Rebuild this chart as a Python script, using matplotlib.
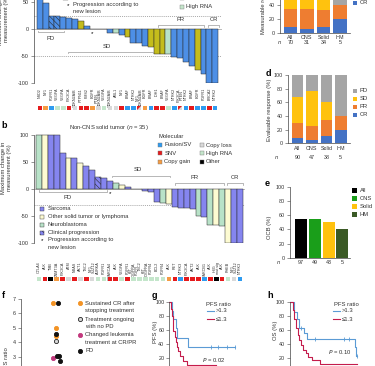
import matplotlib
matplotlib.use('Agg')
import matplotlib.pyplot as plt
import matplotlib.transforms as mtransforms
from matplotlib.patches import Rectangle, Polygon
import numpy as np

plt.rcParams['font.family'] = ['Liberation Sans', 'DejaVu Sans']
plt.rcParams['hatch.linewidth'] = 0.4
plt.rcParams['axes.linewidth'] = 0.5

# ---------------- data ----------------
a_genes = ['NSD2', 'NF1', 'FGFR1', 'VEGFA', 'VEGFA', 'PIK3CA', 'CDKN2A/B', 'PTPN11', 'PMS2',
           'EGFR', 'PTEN,\nCDKN2A/B', 'VEGFA', 'CDKN2A/B', 'ABL1', 'NF1', 'BRAF', 'NTRK2',
           'NF1,\nCDKN2A/B', 'EGFR', 'BRAF', 'IDH1', 'BRAF', 'VEGFA', 'NTRK2', 'PIK3CA,\nPTEN',
           'NTRK2', 'BRAF', 'EGFR', 'FGFR1', 'BRCA2', 'NTRK2']
a_values = [60, 48, 25, 25, 23, 21, 19, 14, 5, 0, 0, 0, -8, -7, -12, -15, -26, -26, -32, -33,
            -47, -47, -47, -52, -53, -62, -68, -75, -83, -100, -100]
a_types = ['B', 'B', 'B', 'B', 'B', 'B', 'B', 'Y', 'B', 'B', 'B', 'B', 'B', 'G', 'B', 'Y',
           'B', 'B', 'B', 'Y', 'Y', 'Y', 'G', 'B', 'B', 'B', 'B', 'Y', 'B', 'B', 'B']
a_hatched = [2, 3]
a_star = [9]
a_mol = ['SNV', 'Gain', 'Fusion', 'RNA', 'RNA', 'SNV', 'Loss', 'SNV', 'SNV', 'Gain', 'Loss',
         'RNA', 'Loss', 'Loss', 'SNV', 'Fusion', 'Fusion', 'SNV/Loss', 'Gain', 'Fusion', 'SNV',
         'SNV', 'RNA', 'Fusion', 'SNV/Loss', 'Fusion', 'SNV', 'Fusion', 'Fusion', 'SNV', 'Fusion']

b_genes = ['CTLA4', 'ALK', 'TMB', 'DNMT3A', 'PIK3CA', 'ATM', 'NRAS', 'AKT1', 'TSC2',
           'NF1,\nSUZ12', 'AURKA', 'FGFR1', 'SMARCA4', 'ALK', 'VEGFA', 'FGFR1',
           'KIT,\nPDGFRA,\nFGFR', 'TSC2', 'KIT,\nPDGFRA', 'FGFR4', 'BCL2', 'FGFR4', 'ALK', 'RET',
           'NTRK3', 'PIK3CA', 'AKT2', 'ALK', 'SMARCB1', 'ALK', 'H3G\nmut sig', 'ALK', 'RHEB',
           'NF1,\nSUZ12', 'NTRK3']
b_values = [100, 100, 100, 100, 67, 57, 57, 48, 42, 35, 23, 20, 15, 12, 7, 4, 1, 0, -3, -5,
            -24, -25, -28, -33, -34, -35, -37, -50, -52, -67, -67, -68, -100, -100, -100]
b_types = ['N', 'O', 'S', 'S', 'S', 'O', 'S', 'O', 'S', 'S', 'S', 'S', 'S', 'N', 'O', 'S',
           'S', 'S', 'S', 'S', 'S', 'N', 'O', 'S', 'S', 'S', 'S', 'N', 'S', 'N', 'O', 'N',
           'O', 'S', 'S']
b_hatched = [10]
b_star = [12]
b_mol = ['RNA', 'SNV', 'Other', 'Gain', 'SNV', 'Loss', 'SNV', 'Loss', 'SNV', 'Loss', 'RNA',
         'RNA', 'SNV', 'SNV', 'RNA', 'SNV', 'RNA', 'RNA', 'RNA', 'RNA', 'RNA', 'RNA', 'Gain',
         'SNV', 'Fusion', 'SNV', 'SNV', 'SNV', 'Fusion', 'SNV', 'Other', 'SNV', 'RNA', 'Loss',
         'Fusion']

groups = ['All', 'CNS', 'Solid', 'HM']
c_n = [70, 31, 34, 5]
c_CR = [8, 6, 8, 20]
c_PR = [27, 29, 26, 20]
c_SD = [35, 40, 30, 0]
c_PD = [30, 25, 36, 60]

d_n = [90, 47, 38, 5]
d_CR = [8, 5, 10, 20]
d_PR = [21, 20, 24, 20]
d_SD = [39, 52, 27, 0]
d_PD = [32, 23, 39, 60]

e_n = [97, 49, 43, 5]
e_ocb = [55, 55, 50, 40]

f_x = [0.60, 0.69, 0.65, 0.65, 0.65, 0.65, 0.70, 0.60, 0.66, 0.72]
f_y = [6.70, 6.74, 4.97, 4.40, 4.55, 4.12, 3.07, 2.89, 3.07, 2.72]
f_grp = ['CR', 'PD', 'CR', 'CR', 'PD', 'Ongoing', 'PD', 'Changed', 'PD', 'PD']

g_hi_t = [0, 2.5, 3.2, 5.4, 6.3, 16.1]
g_hi_s = [100, 87, 75, 62, 48, 36]
g_hi_end = 55.9
g_hi_cens = [35.1, 41.6, 48.7, 55.9]
g_lo_t = [0, 1.5, 2.0, 2.8, 3.4, 4.5, 5.4, 6.5, 7.5, 9.1, 11.4, 14.8]
g_lo_s = [100, 90, 80, 68, 58, 50, 42, 35, 30, 22, 15, 10]
g_lo_end = 40

h_hi_t = [0, 3.4, 5.4, 7.2, 11.2, 13.3, 52.0, 53.0]
h_hi_s = [100, 85, 75, 62, 55, 47, 35, 23]
h_hi_end = 53.3
h_hi_cens = [9.0, 20.0, 43.2, 47.5, 53.3]
h_hi_cens_s = [62, 47, 47, 47, 23]
h_lo_t = [0, 2.1, 3.4, 4.8, 6.1, 7.5, 8.8, 10.7, 12.8, 14.7, 17.3, 24.0]
h_lo_s = [100, 88, 75, 62, 52, 45, 38, 32, 27, 22, 17, 12]
h_lo_end = 53.3

# ---------------- styles ----------------
W, H = 375, 366
fig = plt.figure(figsize=(W / 100, H / 100), dpi=100)

def add_ax(l, t, r, b):
    return fig.add_axes([l / W, 1 - b / H, (r - l) / W, (b - t) / H])

ov = add_ax(0, 0, W, H)
ov.set_xlim(0, W)
ov.set_ylim(H, 0)
ov.axis('off')
ov.set_zorder(10)

FS = 4.2
TICK = 3.9
GENE = 2.7
TXT = '#333333'
SPC = '#444444'
mol_col = {'Fusion': '#2e9bf0', 'SNV': '#e51a1c', 'Gain': '#f59b42', 'Loss': '#d9d9d9',
           'RNA': '#c4e6cb', 'Other': '#000000'}
a_col = {'B': '#4d8fe6', 'Y': '#c4bc1c', 'G': '#b8e2c8'}
b_col = {'S': '#8585ef', 'O': '#fdfbd2', 'N': '#b8e2c8'}
resp_col = {'PD': '#a5a5a5', 'SD': '#ffc20e', 'PR': '#ee7d31', 'CR': '#4472c4'}
e_col = ['#000000', '#1a9e1a', '#ffc20e', '#3b5a26']
HATCH = '\\\\\\\\\\\\'


def style_ax(ax):
    for s in ['top', 'right']:
        ax.spines[s].set_visible(False)
    for s in ax.spines.values():
        s.set_color(SPC)
        s.set_linewidth(0.5)
    ax.tick_params(axis='both', colors=SPC, labelcolor=TXT, width=0.4, length=2,
                   labelsize=TICK, pad=1.5)
    ax.patch.set_alpha(0)


def bracket(x0, x1, y, up):
    d = -1.6 if up else 1.6
    ov.plot([x0, x0, x1, x1], [y + d, y, y, y + d], color='#9a9a9a', lw=0.5)


def waterfall(ax, strip, vals, types, cols, hatched, stars, genes, mols, pad):
    x = np.arange(len(vals))
    bars = ax.bar(x, vals, width=1.0, color=[cols[t] for t in types], edgecolor='#2a2a2a',
                  linewidth=0.35, zorder=3)
    for i in hatched:
        bars[i].set_hatch(HATCH)
    for i in stars:
        ax.text(i, -9, '*', ha='center', va='center', fontsize=4.5, zorder=4)
    ax.axhline(0, color='#a0a0a0', lw=0.5, zorder=2)
    style_ax(ax)
    ax.spines['bottom'].set_visible(False)
    ax.set_xticks(x)
    ax.set_xticklabels(genes, rotation=90, fontsize=GENE, color=TXT, linespacing=0.82)
    ax.tick_params(axis='x', length=0, pad=pad)
    # molecular strip
    strip.set_xlim(ax.get_xlim())
    strip.set_ylim(0, 1)
    strip.axis('off')
    base = [mol_col[m.split('/')[-1]] for m in mols]
    strip.bar(x, [1] * len(x), width=0.78, bottom=0, color=base, linewidth=0)
    for i, m in enumerate(mols):
        if '/' in m:
            top = mol_col[m.split('/')[0]]
            strip.add_patch(Polygon([[i - 0.39, 0], [i - 0.39, 1], [i + 0.39, 1]],
                                    closed=True, color=top, lw=0))


# ---------------- panel a ----------------
ppu_a = (83 - 2) / 150
axa = add_ax(34, -10, 222, 83)
axa.set_ylim(-100, 50 + 12 / ppu_a)
axa.set_xlim(-1.01, 31.18)
stripa = add_ax(34, 105.5, 222, 110.5)
waterfall(axa, stripa, a_values, a_types, a_col, a_hatched, a_star, a_genes, a_mol, 3.6)
axa.axhline(25, color='#8a8a8a', lw=0.5, ls=(0, (1.5, 1.5)), zorder=1)
axa.axhline(-50, color='#8a8a8a', lw=0.5, ls=(0, (1.5, 1.5)), zorder=1)
axa.set_yticks([-100, -50, 0, 50])
axa.set_yticklabels(['-100', '-50', '0', '50'])
ov.text(3.5, 19, 'Maximum change in\nmeasurement (%)', rotation=90, ha='center', va='center',
        fontsize=FS, linespacing=1.15, color=TXT)
bracket(38, 64, 32.3, True)
ov.text(51, 38.5, 'PD', ha='center', va='center', fontsize=FS, color=TXT)
bracket(68, 153, 51.7, False)
ov.text(107, 46.5, 'SD', ha='center', va='center', fontsize=FS, color=TXT)
bracket(158, 204, 25, False)
ov.text(181, 19.5, 'PR', ha='center', va='center', fontsize=FS, color=TXT)
bracket(208, 219, 25, False)
ov.text(213.5, 19.5, 'CR', ha='center', va='center', fontsize=FS, color=TXT)
# top legend (partly cropped)
ov.add_patch(Rectangle((63, -4.5), 4.5, 4.5, facecolor=a_col['B'], edgecolor='#333', lw=0.3,
                       hatch=HATCH))
ov.text(73, -2.2, 'Clinical progression', va='center', fontsize=FS, color=TXT)
ov.text(68, 6, '*', ha='center', va='center', fontsize=4.5)
ov.text(73, 4.8, 'Progression according to', va='center', fontsize=FS, color=TXT)
ov.text(73, 11.5, 'new lesion', va='center', fontsize=FS, color=TXT)
ov.add_patch(Rectangle((180, -4), 4, 4, facecolor=mol_col['Loss'], edgecolor='#777', lw=0.3))
ov.text(186, -2, 'Copy loss', va='center', fontsize=FS, color=TXT)
ov.add_patch(Rectangle((180, 4.7), 4, 4, facecolor=mol_col['RNA'], edgecolor='#777', lw=0.3))
ov.text(186, 6.7, 'High RNA', va='center', fontsize=FS, color=TXT)

# ---------------- panel b ----------------
ppu_b = (243.3 - 135) / 200
axb = add_ax(33.5, 130, 245, 243.3)
axb.set_ylim(-100, 100 + 5 / ppu_b)
axb.set_xlim(-0.92, 34.86)
stripb = add_ax(33.5, 276.5, 245, 281)
waterfall(axb, stripb, b_values, b_types, b_col, b_hatched, b_star, b_genes, b_mol, 13.2)
axb.axhline(-30, color='#8a8a8a', lw=0.5, ls=(0, (1.5, 1.5)), zorder=1)
axb.spines['left'].set_bounds(-100, 100)
axb.set_yticks([-100, -50, 0, 50, 100])
axb.set_yticklabels(['-100', '-50', '0', '50', '100'])
ov.text(1, 126, 'b', fontsize=6.5, fontweight='bold', va='center')
ov.text(109, 127.5, 'Non-CNS solid tumor ($n$ = 35)', ha='center', va='center', fontsize=FS,
        color=TXT)
ov.text(6.5, 168, 'Maximum change in\nmeasurement (%)', rotation=90, ha='center', va='center',
        fontsize=FS, linespacing=1.15, color=TXT)
bracket(39, 107, 192, True)
ov.text(68, 197.5, 'PD', ha='center', va='center', fontsize=FS, color=TXT)
bracket(112, 170, 175.7, False)
ov.text(138, 169.5, 'SD', ha='center', va='center', fontsize=FS, color=TXT)
bracket(175, 224, 183, False)
ov.text(195, 177.5, 'PR', ha='center', va='center', fontsize=FS, color=TXT)
bracket(227, 243, 183, False)
ov.text(235, 177.5, 'CR', ha='center', va='center', fontsize=FS, color=TXT)
leg_b = [('Sarcoma', b_col['S'], None), ('Other solid tumor or lymphoma', b_col['O'], None),
         ('Neuroblastoma', b_col['N'], None), ('Clinical progression', b_col['S'], HATCH)]
for k, (lab, col, hat) in enumerate(leg_b):
    y = 209 + 7.9 * k
    ov.add_patch(Rectangle((39.5, y - 2.2), 4.4, 4.4, facecolor=col, edgecolor='#333', lw=0.3,
                           hatch=hat))
    ov.text(48, y, lab, va='center', fontsize=FS, color=TXT)
ov.text(41.7, 241, '*', ha='center', va='center', fontsize=4.5)
ov.text(48, 240, 'Progression according to', va='center', fontsize=FS, color=TXT)
ov.text(48, 247.3, 'new lesion', va='center', fontsize=FS, color=TXT)
ov.text(158.3, 137, 'Molecular', va='center', fontsize=FS, color=TXT)
leg_m = [('Fusion/SV', 'Fusion', 158, 145), ('SNV', 'SNV', 158, 153.3),
         ('Copy gain', 'Gain', 158, 161.7), ('Copy loss', 'Loss', 199.5, 145),
         ('High RNA', 'RNA', 199.5, 153.3), ('Other', 'Other', 199.5, 161.7)]
for lab, key, x, y in leg_m:
    ov.add_patch(Rectangle((x, y - 2), 4, 4, facecolor=mol_col[key], edgecolor='#777', lw=0.3))
    ov.text(x + 6.5, y, lab, va='center', fontsize=FS, color=TXT)


# ---------------- stacked response panels ----------------
def stacked(ax, CR, PR, SD, PD):
    x = np.arange(len(groups))
    bottom = np.zeros(len(groups))
    for key, vals in [('CR', CR), ('PR', PR), ('SD', SD), ('PD', PD)]:
        ax.bar(x, vals, bottom=bottom, width=0.8, color=resp_col[key], linewidth=0)
        bottom = bottom + np.array(vals)
    style_ax(ax)
    ax.set_xticks(x)
    ax.set_xticklabels(groups)
    ax.tick_params(axis='x', length=0, pad=2)
    ax.set_yticks([0, 20, 40, 60, 80, 100])


def n_row(ax, ns, y, xn):
    tr = mtransforms.blended_transform_factory(ax.transData, ov.transData)
    for i, n in enumerate(ns):
        ax.text(i, y, str(n), transform=tr, ha='center', va='center', fontsize=TICK,
                color=TXT)
    ov.text(xn, y, '$n$', ha='center', va='center', fontsize=TICK, color=TXT)


# panel c (top cropped)
axc = add_ax(280, -40, 350, 32.7)
stacked(axc, c_CR, c_PR, c_SD, c_PD)
axc.set_ylim(0, (32.7 + 40) / 0.68)
axc.set_xlim(-0.62, 3.6)
axc.spines['left'].set_bounds(0, 100)
n_row(axc, c_n, 43, 280)
ov.text(264, 0, 'Measurable response (%)', rotation=90, ha='center', va='center',
        fontsize=FS, color=TXT)
for k, key in enumerate(['PD', 'SD', 'PR', 'CR']):
    y = 3 - 8 * (3 - k)
    ov.add_patch(Rectangle((353, y - 2.2), 4.4, 4.4, facecolor=resp_col[key], lw=0))
    ov.text(360, y, key, va='center', fontsize=FS, color=TXT)

# panel d
axd = add_ax(288, 75, 350, 143.3)
stacked(axd, d_CR, d_PR, d_SD, d_PD)
axd.set_ylim(0, 100)
axd.set_xlim(-0.66, 3.64)
n_row(axd, d_n, 157.7, 277)
ov.text(268, 73, 'd', fontsize=6.5, fontweight='bold', va='center', ha='center')
ov.text(269.5, 110, 'Evaluable response (%)', rotation=90, ha='center', va='center',
        fontsize=FS, color=TXT)
for k, key in enumerate(['PD', 'SD', 'PR', 'CR']):
    y = 91 + 8 * k
    ov.add_patch(Rectangle((353, y - 2.2), 4.4, 4.4, facecolor=resp_col[key], lw=0))
    ov.text(360, y, key, va='center', fontsize=FS, color=TXT)

# panel e
axe = add_ax(290, 186.7, 350, 257.7)
xe = np.arange(len(groups))
axe.bar(xe, e_ocb, width=0.87, color=e_col, linewidth=0)
style_ax(axe)
axe.set_ylim(0, 100)
axe.set_xlim(-0.8, 3.55)
axe.set_yticks([0, 20, 40, 60, 80, 100])
axe.set_xticks([])
n_row(axe, e_n, 262.5, 279)
ov.text(267, 183, 'e', fontsize=6.5, fontweight='bold', va='center', ha='center')
ov.text(270, 227, 'OCB (%)', rotation=90, ha='center', va='center', fontsize=FS, color=TXT)
for k, lab in enumerate(groups):
    y = 190.7 + 7.8 * k
    ov.add_patch(Rectangle((351.5, y - 2.5), 5, 5, facecolor=e_col[k], lw=0))
    ov.text(359.5, y, lab, va='center', fontsize=FS, color=TXT)

# ---------------- panel f ----------------
ppu_f = 14.42
axf = add_ax(20.7, 290, 75, 380)
axf.set_ylim(7 - 81 / ppu_f, 7 + 9 / ppu_f)
axf.set_xlim(0, 1)
style_ax(axf)
axf.spines['bottom'].set_visible(False)
axf.spines['left'].set_bounds(1, 7)
axf.set_xticks([])
axf.set_yticks([2, 3, 4, 5, 6, 7])
f_style = {'CR': dict(c='#f39325', edgecolors='#f39325'),
           'PD': dict(c='#111111', edgecolors='#111111'),
           'Ongoing': dict(c='#d8d8d8', edgecolors='#222222'),
           'Changed': dict(c='#c2387d', edgecolors='#c2387d')}
for xv, yv, g in zip(f_x, f_y, f_grp):
    axf.scatter([xv], [yv], s=9, linewidths=0.6, zorder=3, **f_style[g])
ov.text(2, 295, 'f', fontsize=6.5, fontweight='bold', va='center')
ov.text(7, 360, 'PFS ratio', rotation=90, ha='center', va='center', fontsize=FS, color=TXT)
leg_f = [('CR', 'Sustained CR after', 'stopping treatment', 303.3),
         ('Ongoing', 'Treatment ongoing', 'with no PD', 319.3),
         ('Changed', 'Changed leukemia', 'treatment at CR/PR', 334.8),
         ('PD', 'PD', None, 351)]
for g, l1, l2, y in leg_f:
    ov.scatter([80], [y], s=9, linewidths=0.6, zorder=3, **f_style[g])
    ov.text(85, y, l1, va='center', fontsize=FS, color=TXT)
    if l2:
        ov.text(85, y + 7.3, l2, va='center', fontsize=FS, color=TXT)


# ---------------- KM panels ----------------
def km(ax, t, s, end, col):
    ax.step(list(t) + [end], list(s) + [s[-1]], where='post', color=col, lw=0.8)


BLUE_KM = '#5b9bd5'
RED_KM = '#c41c4c'

axg = add_ax(169.3, 299, 240, 380)
axg.set_ylim(100 - 81 / 0.721, 100 + 3.3 / 0.721)
axg.set_xlim(0, 60)
style_ax(axg)
axg.spines['left'].set_bounds(0, 100)
axg.set_yticks([0, 20, 40, 60, 80, 100])
axg.set_xticks([])
km(axg, g_hi_t, g_hi_s, g_hi_end, BLUE_KM)
axg.plot(g_hi_cens, [g_hi_s[-1]] * len(g_hi_cens), ls='none', marker='|', ms=2.5,
         mew=0.6, color=BLUE_KM)
km(axg, g_lo_t, g_lo_s, g_lo_end, RED_KM)
ov.text(152, 295, 'g', fontsize=6.5, fontweight='bold', va='center')
ov.text(155, 331.7, 'PFS (%)', rotation=90, ha='center', va='center', fontsize=FS, color=TXT)
ov.text(201.7, 360, '$P$ = 0.02', va='center', fontsize=FS, color=TXT)

axh = add_ax(290, 299, 365, 380)
axh.set_ylim(100 - 81 / 0.729, 100 + 2.7 / 0.729)
axh.set_xlim(0, 60)
style_ax(axh)
axh.spines['left'].set_bounds(0, 100)
axh.set_yticks([0, 20, 40, 60, 80, 100])
axh.set_xticks([])
km(axh, h_hi_t, h_hi_s, h_hi_end, BLUE_KM)
axh.plot(h_hi_cens, h_hi_cens_s, ls='none', marker='|', ms=2.5, mew=0.6, color=BLUE_KM)
km(axh, h_lo_t, h_lo_s, h_lo_end, RED_KM)
ov.text(267, 295, 'h', fontsize=6.5, fontweight='bold', va='center')
ov.text(276, 330, 'OS (%)', rotation=90, ha='center', va='center', fontsize=FS, color=TXT)
ov.text(328, 351.7, '$P$ = 0.10', va='center', fontsize=FS, color=TXT)

for cx, lx0 in [(218, 207), (346, 333)]:
    ov.text(cx, 304, 'PFS ratio', ha='center', va='center', fontsize=FS, color=TXT)
    ov.plot([lx0, lx0 + 6.5], [310.7, 310.7], color=BLUE_KM, lw=0.8)
    ov.text(lx0 + 9, 310.7, '>1.3', va='center', fontsize=FS, color=TXT)
    ov.plot([lx0, lx0 + 6.5], [319.3, 319.3], color=RED_KM, lw=0.8)
    ov.text(lx0 + 9, 319.3, '\u22641.3', va='center', fontsize=FS, color=TXT)

fig.savefig('out.png', dpi=100)
